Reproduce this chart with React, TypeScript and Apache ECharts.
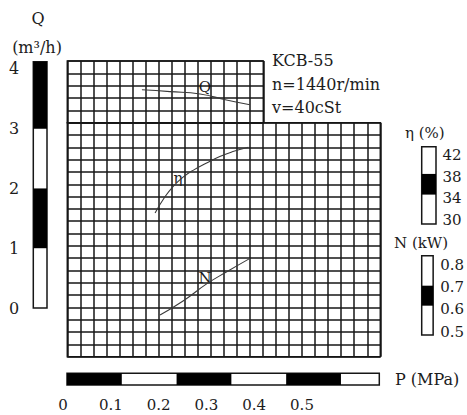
import React, { useEffect, useRef } from 'react';
import * as echarts from 'echarts';

// Grid paper (cells)
const paperLowerCols = 24;
const paperLowerRows = 19;
const paperUpperCols = 15;
const paperUpperRows = 5;

// P (MPa) scale
const pMax = 0.57;
const pTickLabels = [0, 0.1, 0.2, 0.3, 0.4, 0.5];
const pBlackBands = [[0, 0.1], [0.2, 0.3], [0.4, 0.5]];

// Q (m3/h) scale
const qRange = [0, 4.12];
const qTicks = [0, 1, 2, 3, 4];
const qBlackBands = [[1, 2], [3, 4.12]];

// eta (%) scale
const etaRange = [29.3, 43.5];
const etaTicks = [30, 34, 38, 42];
const etaBlackBands = [[34.7, 38.5]];

// N (kW) scale
const nRange = [0.485, 0.842];
const nTicks = [0.5, 0.6, 0.7, 0.8];
const nBlackBands = [[0.617, 0.707]];

// Curves
const qCurveP = [0.136, 0.187, 0.242, 0.29, 0.333];
const qCurveQ = [3.65, 3.62, 3.58, 3.48, 3.4];

const etaCurveP = [0.16, 0.178, 0.193, 0.211, 0.23, 0.254, 0.278, 0.302, 0.33];
const etaCurveEta = [31.3, 34.3, 36.2, 37.9, 39.2, 40.5, 41.7, 42.6, 43.4];

const nCurveP = [0.169, 0.211, 0.254, 0.293, 0.333];
const nCurveN = [0.575, 0.638, 0.715, 0.773, 0.83];

const FONT = 'DejaVu Serif';
const INK = '#1c1c1c';

const hiddenAxis = (gridIndex: number, min: number, max: number) => ({
  type: 'value',
  gridIndex,
  min,
  max,
  show: false,
  splitLine: { show: false },
});

const paperAxis = (gridIndex: number, max: number) => ({
  type: 'value',
  gridIndex,
  min: 0,
  max,
  interval: 1,
  axisLine: { show: false },
  axisTick: { show: false },
  axisLabel: { show: false },
  splitLine: { show: true, lineStyle: { color: '#161616', width: 1.5 } },
});

const bandSeries = (idx: number, bands: number[][], dim: 'xAxis' | 'yAxis') => ({
  type: 'line',
  xAxisIndex: idx,
  yAxisIndex: idx,
  data: [],
  silent: true,
  markArea: {
    silent: true,
    itemStyle: { color: '#000', borderWidth: 0 },
    label: { show: false },
    data: bands.map((b) => [{ [dim]: b[0] }, { [dim]: b[1] }]),
  },
});

const curve = (idx: number, xs: number[], ys: number[]) => ({
  type: 'line',
  xAxisIndex: idx,
  yAxisIndex: idx,
  data: xs.map((x, i) => [x, ys[i]]),
  smooth: true,
  symbol: 'none',
  clip: false,
  silent: true,
  lineStyle: { color: '#3a3a3a', width: 1.1 },
});

const txt = (text: string, x: number, y: number, size: number, align = 'left') => ({
  type: 'text',
  x,
  y,
  silent: true,
  style: {
    text,
    fill: INK,
    font: `${size}px "${FONT}"`,
    align,
    verticalAlign: 'middle',
  },
});

export default function App() {
  const ref = useRef<HTMLDivElement>(null);

  useEffect(() => {
    if (!ref.current) return;
    const chart = echarts.init(ref.current, undefined, { renderer: 'svg' });
    const frame = { show: true, borderColor: '#161616', borderWidth: 1.5, backgroundColor: 'transparent' };
    const grids = [
      { left: 67.3, top: 61, width: 196, height: 61.7, ...frame }, // 0 paper upper
      { left: 67.3, top: 122.7, width: 313, height: 234, ...frame }, // 1 paper lower
      { left: 33.3, top: 61.7, width: 13.7, height: 246.3, ...frame }, // 2 Q bar
      { left: 421.7, top: 146.7, width: 14.3, height: 77.3, ...frame }, // 3 eta bar
      { left: 421.7, top: 255.7, width: 14.3, height: 79.3, ...frame }, // 4 N bar
      { left: 67, top: 373.3, width: 312.3, height: 11.7, ...frame }, // 5 P bar
      { left: 63, top: 390, width: 239, height: 1 }, // 6 P labels
      { left: 67.3, top: 61.7, width: 312.7, height: 246.3 }, // 7 Q curve
      { left: 67.3, top: 146.7, width: 312.7, height: 77.3 }, // 8 eta curve
      { left: 67.3, top: 255.7, width: 312.7, height: 79.3 }, // 9 N curve
    ];

    const labelStyle = { color: INK, fontFamily: FONT, fontSize: 15 };

    const xAxis = [
      paperAxis(0, paperUpperCols),
      paperAxis(1, paperLowerCols),
      hiddenAxis(2, 0, 1),
      hiddenAxis(3, 0, 1),
      hiddenAxis(4, 0, 1),
      hiddenAxis(5, 0, pMax),
      {
        type: 'value',
        gridIndex: 6,
        min: pTickLabels[0],
        max: pTickLabels[pTickLabels.length - 1],
        interval: 0.1,
        axisLine: { show: false },
        axisTick: { show: false },
        splitLine: { show: false },
        axisLabel: {
          ...labelStyle,
          margin: 6.5,
          formatter: (v: number) => (v === 0 ? '0' : v.toFixed(1)),
        },
      },
      hiddenAxis(7, 0, pMax),
      hiddenAxis(8, 0, pMax),
      hiddenAxis(9, 0, pMax),
    ];

    const scaleAxis = (gridIndex: number, range: number[], ticks: number[], position: string, margin: number, fmt?: (v: number) => string, fontSize = 15) => ({
      type: 'value',
      gridIndex,
      position,
      min: range[0],
      max: range[1],
      axisLine: { show: false },
      axisTick: { show: false },
      splitLine: { show: false },
      axisLabel: {
        ...labelStyle,
        fontSize,
        margin,
        customValues: ticks,
        formatter: fmt ? fmt : (v: number) => String(v),
      },
    });

    const yAxis = [
      paperAxis(0, paperUpperRows),
      paperAxis(1, paperLowerRows),
      scaleAxis(2, qRange, qTicks, 'left', 14, undefined, 16),
      scaleAxis(3, etaRange, etaTicks, 'right', 6.5),
      scaleAxis(4, nRange, nTicks, 'right', 7, (v: number) => v.toFixed(1)),
      hiddenAxis(5, 0, 1),
      hiddenAxis(6, 0, 1),
      hiddenAxis(7, qRange[0], qRange[1]),
      hiddenAxis(8, etaRange[0], etaRange[1]),
      hiddenAxis(9, nRange[0], nRange[1]),
    ];

    const series = [
      { type: 'line', xAxisIndex: 0, yAxisIndex: 0, data: [] },
      { type: 'line', xAxisIndex: 1, yAxisIndex: 1, data: [] },
      bandSeries(2, qBlackBands, 'yAxis'),
      bandSeries(3, etaBlackBands, 'yAxis'),
      bandSeries(4, nBlackBands, 'yAxis'),
      bandSeries(5, pBlackBands, 'xAxis'),
      { type: 'line', xAxisIndex: 6, yAxisIndex: 6, data: [] },
      curve(7, qCurveP, qCurveQ),
      curve(8, etaCurveP, etaCurveEta),
      curve(9, nCurveP, nCurveN),
    ];

    chart.setOption({
      animation: false,
      backgroundColor: '#fff',
      grid: grids,
      xAxis,
      yAxis,
      series,
      graphic: [
        txt('Q', 38, 18, 16, 'center'),
        txt('(m³/h)', 37, 47, 16, 'center'),
        txt('KCB-55', 272, 60, 16),
        txt('n=1440r/min', 272, 84, 16),
        txt('v=40cSt', 272, 107, 16),
        txt('Q', 205, 87, 15, 'center'),
        txt('η', 178, 178, 15, 'center'),
        txt('N', 205, 278, 15, 'center'),
        txt('η (%)', 405, 133, 15),
        txt('N (kW)', 394, 243, 15),
        txt('P (MPa)', 395, 379, 16),
      ],
    });
    return () => chart.dispose();
  }, []);

  return (
    <div
      ref={ref}
      style={{ position: 'fixed', left: 0, top: 0, width: 467, height: 415, background: '#fff' }}
    />
  );
}
